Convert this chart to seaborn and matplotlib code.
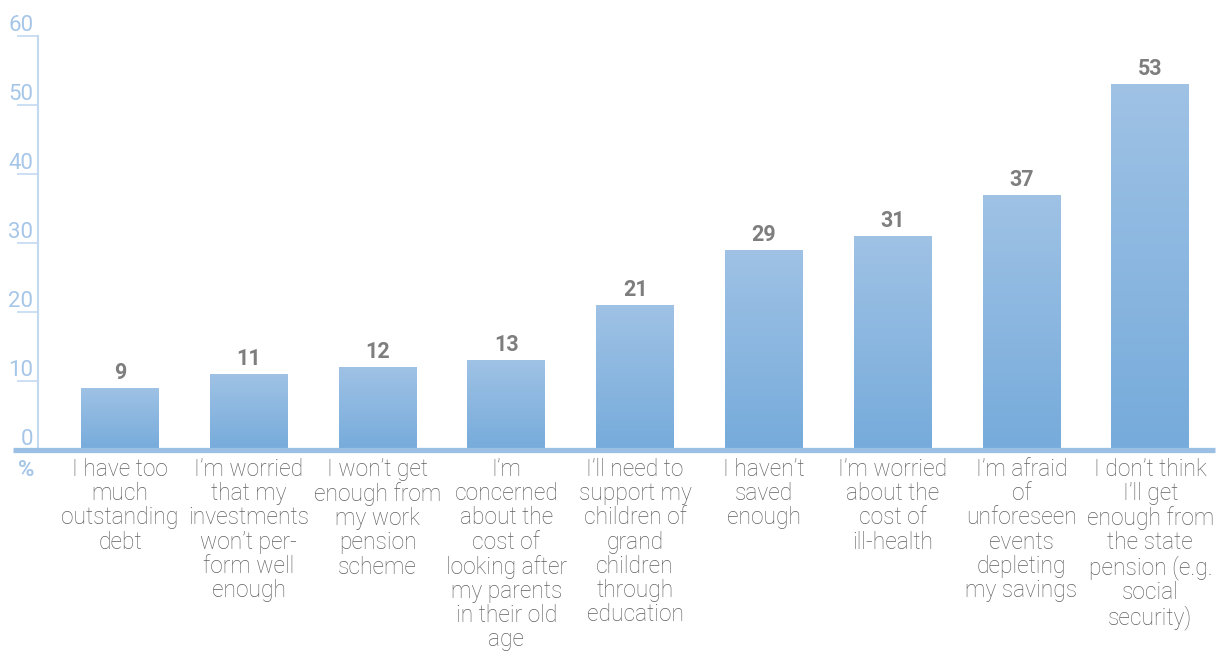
import matplotlib
matplotlib.use("Agg")
import matplotlib.pyplot as plt
import numpy as np
import pandas as pd
import seaborn as sns
from matplotlib import font_manager

# Survey responses: share of respondents (%) citing each retirement worry
categories = [
    "I have too\nmuch\noutstanding\ndebt",
    "I\u2019m worried\nthat my\ninvestments\nwon\u2019t per-\nform well\nenough",
    "I won\u2019t get\nenough from\nmy work\npension\nscheme",
    "I\u2019m\nconcerned\nabout the\ncost of\nlooking after\nmy parents\nin their old\nage",
    "I\u2019ll need to\nsupport my\nchildren of\ngrand\nchildren\nthrough\neducation",
    "I haven\u2019t\nsaved\nenough",
    "I\u2019m worried\nabout the\ncost of\nill-health",
    "I\u2019m afraid\nof\nunforeseen\nevents\ndepleting\nmy savings",
    "I don\u2019t think\nI\u2019ll get\nenough from\nthe state\npension (e.g.\nsocial\nsecurity)",
]
values = [9, 11, 12, 13, 21, 29, 31, 37, 53]
y_ticks = [0, 10, 20, 30, 40, 50, 60]

sns.set_theme(style="white")
names = {f.name for f in font_manager.fontManager.ttflist}
base_font = "Roboto" if "Roboto" in names else "DejaVu Sans"
plt.rcParams["font.family"] = [base_font, "DejaVu Sans"]

AXIS_BLUE = "#c3d9f0"
TICK_BLUE = "#a6c6e8"
BASE_BLUE = "#9cc0e4"
TEXT_GREY = "#606060"
VALUE_GREY = "#7e7e7e"

fig = plt.figure(figsize=(12.27, 6.55), dpi=100)
ax = fig.add_axes([0.031, 0.313, 0.959, 0.632])

df = pd.DataFrame({"cat": categories, "val": values})
sns.barplot(data=df, x="cat", y="val", ax=ax, color="#8ab8e1",
            width=0.605, saturation=1, edgecolor="none")

# vertical gradient fill for each bar
grad = np.linspace(0, 1, 256).reshape(-1, 1)
cmap = matplotlib.colors.LinearSegmentedColormap.from_list(
    "barfill", ["#76abdb", "#9fc2e5"])
for patch in ax.patches:
    x0, y0 = patch.get_x(), patch.get_y()
    w, h = patch.get_width(), patch.get_height()
    im = ax.imshow(grad, extent=[x0, x0 + w, y0, y0 + h], origin="lower",
                   cmap=cmap, aspect="auto", zorder=patch.get_zorder() + 0.1)
    im.set_clip_path(patch)

ax.set_xlim(-0.636, 8.5)
ax.set_ylim(0, 60)

# value labels above bars
for i, v in enumerate(values):
    ax.annotate(str(v), xy=(i, v), xytext=(0, 3), textcoords="offset points",
                ha="center", va="bottom", fontsize=15.5, fontweight="bold",
                color=VALUE_GREY)

# axes styling
for side in ["top", "right", "bottom"]:
    ax.spines[side].set_visible(False)
ax.spines["left"].set_color(AXIS_BLUE)
ax.spines["left"].set_linewidth(1.5)

ax.set_yticks(y_ticks)
ax.set_yticklabels([str(t) for t in y_ticks], fontsize=16, color=TICK_BLUE,
                   va="bottom")
ax.tick_params(axis="y", direction="out", length=15, width=1.2,
               color=AXIS_BLUE, pad=-11.5, left=True)
ax.tick_params(axis="x", length=0, pad=6)
ax.set_xticks(range(len(categories)))
ax.set_xticklabels(categories, fontsize=16.4, color=TEXT_GREY,
                   linespacing=1.06, va="top", fontweight="light")
ax.set_xlabel("")
ax.set_ylabel("")

# thick baseline running past the y-axis
ax.axhline(0, xmin=-0.021, xmax=1.0, color=BASE_BLUE, lw=3.8,
           clip_on=False, zorder=5, solid_capstyle="butt")

ax.text(-0.010, -0.048, "%", transform=ax.transAxes, fontsize=16,
        fontweight="bold", color=TICK_BLUE, ha="center", va="center")

fig.savefig("out.png", dpi=100)
